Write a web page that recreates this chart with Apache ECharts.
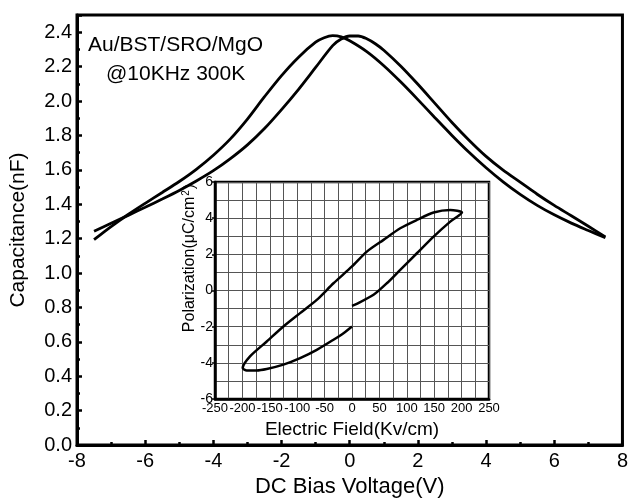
<!DOCTYPE html>
<html>
<head>
<meta charset="utf-8">
<script src="https://cdn.jsdelivr.net/npm/echarts@6/dist/echarts.min.js"></script>
<style>html,body{margin:0;padding:0;background:#fff;}#c{width:631px;height:503px;}</style>
</head>
<body>
<div id="c"></div>
<script>
// Main C-V data (two sweep directions)
const voltageA = [-7.5,-7.0,-6.5,-6.0,-5.5,-5.0,-4.5,-4.0,-3.5,-3.0,-2.5,-2.0,-1.5,-1.0,-0.75,-0.5,-0.25,0.0,0.5,1.0,1.5,2.0,2.5,3.0,3.5,4.0,4.5,5.0,5.5,6.0,6.5,7.0,7.5];
const capA     = [1.194,1.270,1.340,1.405,1.468,1.532,1.603,1.685,1.780,1.895,2.025,2.148,2.255,2.342,2.368,2.380,2.373,2.350,2.287,2.205,2.110,2.008,1.903,1.800,1.702,1.612,1.530,1.457,1.393,1.338,1.290,1.247,1.205];
const voltageB = [-7.5,-7.0,-6.5,-6.0,-5.5,-5.0,-4.5,-4.0,-3.5,-3.0,-2.5,-2.0,-1.5,-1.0,-0.5,-0.25,0.0,0.25,0.5,0.75,1.0,1.5,2.0,2.5,3.0,3.5,4.0,4.5,5.0,5.5,6.0,6.5,7.0,7.5];
const capB     = [1.243,1.289,1.335,1.382,1.430,1.480,1.535,1.595,1.665,1.745,1.840,1.950,2.068,2.195,2.322,2.360,2.378,2.378,2.362,2.333,2.295,2.202,2.097,1.986,1.875,1.772,1.678,1.598,1.528,1.458,1.393,1.333,1.272,1.210];
// Inset P-E loop data
const fieldE = [0,8.8,39.3,63.6,88.0,118.4,148.9,179.3,200.7,179.3,148.9,118.4,88,57.5,27.1,0,-33.8,-64.3,-94.7,-125.2,-155.6,-186.1,-199.5,-192.1,-173.9,-155.6,-125.2,-94.7,-64.3,-33.8,-15.5,0];
const polarP = [-0.85,-0.74,-0.24,0.40,1.14,2.06,2.98,3.81,4.31,4.45,4.31,3.90,3.44,2.80,2.15,1.33,0.40,-0.52,-1.25,-1.99,-2.82,-3.64,-4.29,-4.42,-4.42,-4.34,-4.10,-3.74,-3.28,-2.72,-2.36,-1.99];
const mainXTicks = [-8,-6,-4,-2,0,2,4,6,8];
const labelLines = ['Au/BST/SRO/MgO','@10KHz 300K'];

const FONT = 'Liberation Sans, Arial, sans-serif';
const chart = echarts.init(document.getElementById('c'));
const pairs = (xs, ys) => xs.map((x,i)=>[x, ys[i]]);

chart.setOption({
  animation: false,
  backgroundColor: '#fff',
  graphic: [
    {type:'text', left: 88, top: 35, style:{text: labelLines[0], font: '21px '+FONT, fill:'#000'}},
    {type:'text', left: 106, top: 64, style:{text: labelLines[1], font: '21px '+FONT, fill:'#000'}},
    {type:'text', x: 190, y: 258, rotation: Math.PI/2, z: 10,
     style:{text: '{a|Polarization(μC/cm}{s|2}{a|)}', align:'center', verticalAlign:'middle',
       rich:{a:{fontFamily:FONT, fontSize:16, fill:'#000', color:'#000'},
             s:{fontFamily:FONT, fontSize:10, fill:'#000', color:'#000', verticalAlign:'top', padding:[0,1,8,1]}}}}
  ],
  grid: [
    {left: 77, top: 15, right: 4, bottom: 52, show: true, borderColor: '#000', borderWidth: 3, backgroundColor:'transparent'},
    {left: 215, top: 182, width: 274, height: 217, show: true, borderColor: '#000', borderWidth: 2.5, backgroundColor: '#fff', z: 5}
  ],
  xAxis: [
    {type:'value', gridIndex:0, min:-8, max:8, interval:2,
     name:'DC Bias Voltage(V)', nameLocation:'middle', nameGap: 31,
     nameTextStyle:{fontFamily:FONT, fontSize:22, color:'#000'},
     axisLine:{show:true, onZero:false, lineStyle:{color:'#000', width:3}},
     axisTick:{show:true, inside:true, length:5, lineStyle:{color:'#000', width:2.5}},
     minorTick:{show:true, splitNumber:2, length:3, lineStyle:{color:'#000', width:2.5}},
     splitLine:{show:false},
     axisLabel:{fontFamily:FONT, fontSize:20, color:'#000', margin:6,
       formatter: v => mainXTicks.includes(v) ? String(v) : ''}},
    {type:'value', gridIndex:1, min:-250, max:250, interval:50,
     name:'Electric Field(Kv/cm)', nameLocation:'middle', nameGap: 21,
     nameTextStyle:{fontFamily:FONT, fontSize:19, color:'#000'},
     axisLine:{show:true, onZero:false, lineStyle:{color:'#000', width:2.5}},
     axisTick:{show:false},
     minorTick:{show:false, splitNumber:2},
     splitLine:{show:true, lineStyle:{color:'#555', width:1}},
     minorSplitLine:{show:true, lineStyle:{color:'#555', width:1}},
     axisLabel:{fontFamily:FONT, fontSize:13, color:'#000', margin:3, showMinLabel:true, showMaxLabel:true}, z: 6}
  ],
  yAxis: [
    {type:'value', gridIndex:0, min:0, max:2.5, interval:0.2,
     name:'Capacitance(nF)', nameLocation:'middle', nameGap: 48,
     nameTextStyle:{fontFamily:FONT, fontSize:21, color:'#000'},
     axisLine:{show:true, onZero:false, lineStyle:{color:'#000', width:3}},
     axisTick:{show:true, inside:true, length:5, lineStyle:{color:'#000', width:2.5}},
     minorTick:{show:true, splitNumber:2, length:3, lineStyle:{color:'#000', width:2.5}},
     splitLine:{show:false},
     axisLabel:{fontFamily:FONT, fontSize:20, color:'#000', margin:5, showMaxLabel:false,
       formatter: v => (v <= 2.41) ? v.toFixed(1) : ''}},
    {type:'value', gridIndex:1, min:-6, max:6, interval:2,
     axisLine:{show:true, onZero:false, lineStyle:{color:'#000', width:2.5}},
     axisTick:{show:true, inside:false, length:3, lineStyle:{color:'#000', width:1.5}},
     splitLine:{show:true, lineStyle:{color:'#555', width:1}},
     minorSplitLine:{show:true, lineStyle:{color:'#555', width:1}},
     minorTick:{show:false, splitNumber:2},
     axisLabel:{fontFamily:FONT, fontSize:14, color:'#000', margin:2}, z: 6}
  ],
  series: [
    {type:'line', xAxisIndex:0, yAxisIndex:0, data: pairs(voltageA, capA), smooth:0.3, showSymbol:false,
     lineStyle:{color:'#000', width:2.8}},
    {type:'line', xAxisIndex:0, yAxisIndex:0, data: pairs(voltageB, capB), smooth:0.3, showSymbol:false,
     lineStyle:{color:'#000', width:2.8}},
    {type:'line', xAxisIndex:1, yAxisIndex:1, data: pairs(fieldE, polarP), smooth:0.25, showSymbol:false,
     lineStyle:{color:'#000', width:2.5}, z: 7}
  ]
});
</script>
</body>
</html>
